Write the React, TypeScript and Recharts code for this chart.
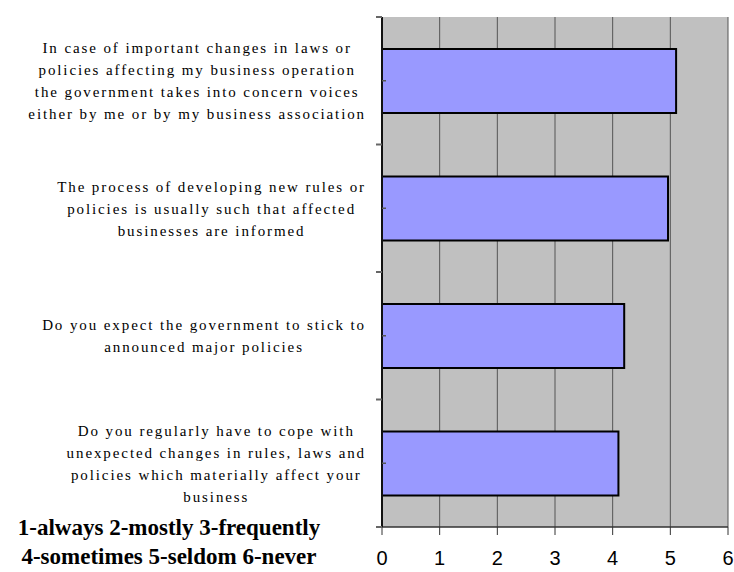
import { BarChart, Bar, XAxis, YAxis, CartesianGrid } from "recharts";

// survey questions, top to bottom (line breaks as in the original chart)
const QUESTIONS = [
  "In case of important changes in laws or\npolicies affecting my business operation\nthe government takes into concern voices\neither by me or by my business association",
  "The process of developing new rules or\npolicies is usually such that affected\nbusinesses are informed",
  "Do you expect the government to stick to\nannounced major policies",
  "Do you regularly have to cope with\nunexpected changes in rules, laws and\npolicies which materially affect your\nbusiness",
];
const SCORES = [5.1, 4.96, 4.2, 4.1];
const X_TICKS = [0, 1, 2, 3, 4, 5, 6];
const SCALE_NOTE = ["1-always 2-mostly 3-frequently", "4-sometimes 5-seldom 6-never"];

const data = QUESTIONS.map((q, i) => ({ question: q, score: SCORES[i] }));

const LABEL_FONT = "'Liberation Serif', 'Times New Roman', serif";
const LABEL_SIZE = 15;
const LABEL_SPACING = 1.9;
const LINE_H = 22;

let ctx: CanvasRenderingContext2D | null = null;
function textWidth(s: string) {
  if (!ctx) ctx = document.createElement("canvas").getContext("2d");
  if (!ctx) return s.length * 8;
  ctx.font = `${LABEL_SIZE}px ${LABEL_FONT}`;
  return ctx.measureText(s).width + LABEL_SPACING * s.length;
}

function QuestionTick(props: any) {
  const { x, y, payload, index, visibleTicksCount } = props;
  const lines = String(payload.value).split("\n");
  const widest = Math.max(...lines.map(textWidth));
  const cx = x - widest / 2;
  const top = y - ((lines.length - 1) * LINE_H) / 2;
  const half = payload.offset ?? 64;
  return (
    <g>
      <text
        textAnchor="middle"
        fontFamily={LABEL_FONT}
        fontSize={LABEL_SIZE}
        letterSpacing={LABEL_SPACING}
        fill="#000"
      >
        {lines.map((l, i) => (
          <tspan key={i} x={cx} y={top + i * LINE_H} dy="0.35em">
            {l}
          </tspan>
        ))}
      </text>
      <line x1={x + 10} x2={x + 16} y1={y - half} y2={y - half} stroke="#666" strokeWidth={2} />
      {index === visibleTicksCount - 1 && (
        <line x1={x + 10} x2={x + 16} y1={y + half} y2={y + half} stroke="#666" strokeWidth={2} />
      )}
      <line x1={x + 16} x2={x + 20} y1={y} y2={y} stroke="#555" strokeWidth={1.5} />
    </g>
  );
}

export default function App() {
  return (
    <div style={{ position: "absolute", left: 0, top: 0, width: 734, height: 572, background: "#fff" }}>
      <BarChart
        width={734}
        height={572}
        data={data}
        layout="vertical"
        margin={{ top: 17, right: 6, bottom: 7, left: 0 }}
        barCategoryGap="25%"
      >
        <CartesianGrid
          horizontal={false}
          stroke="#555"
          strokeWidth={1}
          fill="#C0C0C0"
          fillOpacity={1}
        />
        <XAxis
          type="number"
          domain={[0, 6]}
          ticks={X_TICKS}
          interval={0}
          height={38}
          tickSize={8}
          tickMargin={16}
          stroke="#333"
          axisLine={{ stroke: "#333", strokeWidth: 1.5 }}
          tickLine={{ stroke: "#333" }}
          tick={{ fill: "#000", fontSize: 20, fontFamily: "'Liberation Sans', Arial, sans-serif" }}
        />
        <XAxis
          xAxisId="top"
          orientation="top"
          type="number"
          domain={[0, 6]}
          height={0}
          tick={false}
          tickLine={false}
          axisLine={{ stroke: "#808080", strokeWidth: 2 }}
        />
        <YAxis
          type="category"
          dataKey="question"
          width={382}
          tickSize={0}
          tickMargin={16}
          tickLine={false}
          interval={0}
          axisLine={{ stroke: "#111", strokeWidth: 2 }}
          tick={<QuestionTick />}
        />
        <YAxis
          yAxisId="right"
          orientation="right"
          type="number"
          domain={[0, 1]}
          width={0}
          tick={false}
          tickLine={false}
          axisLine={{ stroke: "#808080", strokeWidth: 2 }}
        />
        <Bar
          dataKey="score"
          fill="#9999FF"
          stroke="#000"
          strokeWidth={2}
          isAnimationActive={false}
        />
      </BarChart>
      {SCALE_NOTE.map((s, i) => (
        <div
          key={s}
          style={{
            position: "absolute",
            left: 0,
            top: 519 + i * 29,
            width: 338,
            height: 18,
            textAlign: "center",
            fontFamily: "'Liberation Serif', 'Times New Roman', serif",
            fontWeight: "bold",
            fontSize: 23,
            lineHeight: "18px",
            color: "#000",
            whiteSpace: "nowrap",
          }}
        >
          {s}
        </div>
      ))}
    </div>
  );
}
